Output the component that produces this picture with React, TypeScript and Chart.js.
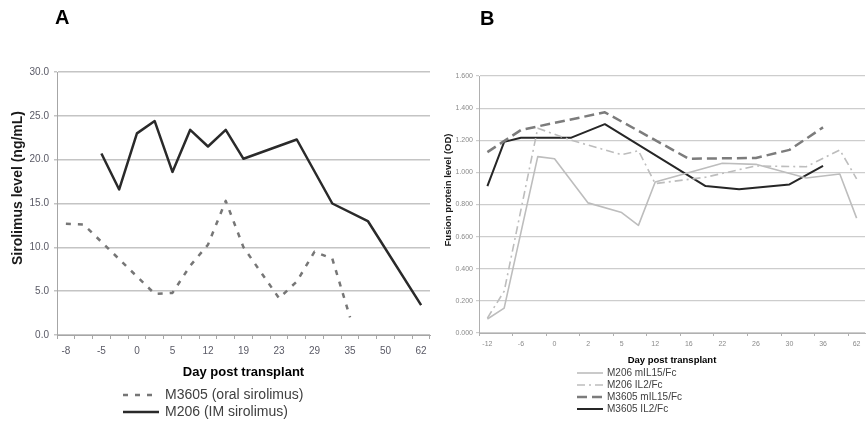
import React, { useEffect, useRef } from "react";
import { Chart, registerables } from "chart.js";

Chart.register(...registerables);

// ---------- Panel A data ----------
const daysA = ["-8", "", "-5", "", "0", "", "5", "", "12", "", "19", "", "23", "", "29", "", "35", "", "50", "", "62"];
const m3605Oral = [12.7, 12.6, null, null, null, 4.7, 4.8, 7.9, 10.3, 15.3, 10.0, null, 4.2, 6.1, 9.5, 8.7, 2.0, null, null, null, null];
const m206IM = [null, null, 20.7, 16.6, 23.0, 24.4, 18.6, 23.4, 21.5, 23.4, 20.1, null, null, 22.3, null, 15.0, null, 13.0, null, null, 3.4];
const yRangeA = [0, 30];
const yStepA = 5;

// ---------- Panel B data ----------
const daysB = ["-12", "", "-6", "", "0", "", "2", "", "5", "", "12", "", "16", "", "22", "", "26", "", "30", "", "36", "", "62"];
const m206mIL15 = [0.087, 0.155, null, 1.098, 1.085, null, 0.81, null, 0.75, 0.67, 0.94, null, null, null, 1.057, null, 1.05, null, null, 0.965, null, 0.99, 0.715];
const m206IL2 = [0.093, 0.26, null, 1.275, null, 1.2, null, null, 1.11, 1.135, 0.93, null, null, 0.97, null, null, 1.04, null, null, 1.035, null, 1.14, 0.96];
const m3605mIL15 = [1.126, null, 1.264, null, null, null, null, 1.374, null, null, null, null, 1.085, null, null, null, 1.09, null, 1.14, null, 1.28, null, null];
const m3605IL2 = [0.915, 1.19, 1.216, null, null, 1.216, null, 1.3, null, null, null, null, null, 0.915, null, 0.895, null, null, 0.925, null, 1.04, null, null];
const yRangeB = [0, 1.6];
const yStepB = 0.2;

const FONT = "'Liberation Sans', Arial, sans-serif";
Chart.defaults.font.family = FONT;

const decor = {
  id: "decor",
  afterDraw(chart: any, _args: any, o: any) {
    const ctx = chart.ctx;
    ctx.save();
    ctx.fillStyle = "#000";
    ctx.font = `bold 20px ${FONT}`;
    ctx.textAlign = "left";
    ctx.textBaseline = "alphabetic";
    ctx.fillText(o.letter, o.letterX, o.letterY);

    ctx.save();
    ctx.translate(o.yTitleX, o.yTitleY);
    ctx.rotate(-Math.PI / 2);
    ctx.font = o.yTitleFont;
    ctx.fillStyle = "#1a1a1a";
    ctx.textAlign = "center";
    ctx.textBaseline = "middle";
    ctx.fillText(o.yTitle, 0, 0);
    ctx.restore();

    o.legendOrder.forEach((dsIndex: number, row: number) => {
      const ds = chart.data.datasets[dsIndex];
      const y = o.legendY + row * o.legendGap;
      ctx.save();
      ctx.strokeStyle = ds.borderColor;
      ctx.lineWidth = ds.borderWidth;
      ctx.setLineDash(ds.borderDash || []);
      ctx.beginPath();
      ctx.moveTo(o.legendX, y);
      ctx.lineTo(o.legendX + o.sampleW, y);
      ctx.stroke();
      ctx.setLineDash([]);
      ctx.font = o.legendFont;
      ctx.fillStyle = "#404040";
      ctx.textAlign = "left";
      ctx.textBaseline = "middle";
      ctx.fillText(ds.label, o.legendX + o.sampleW + o.textGap, y);
      ctx.restore();
    });
    ctx.restore();
  },
};

function configA(): any {
  return {
    type: "line",
    data: {
      labels: daysA,
      datasets: [
        { label: "M3605 (oral sirolimus)", data: m3605Oral, borderColor: "#767676", borderWidth: 2.5, borderDash: [5, 7], pointRadius: 0, spanGaps: true, tension: 0, borderJoinStyle: "round" },
        { label: "M206 (IM sirolimus)", data: m206IM, borderColor: "#2a2a2a", borderWidth: 2.5, pointRadius: 0, spanGaps: true, tension: 0, borderJoinStyle: "round" },
      ],
    },
    plugins: [decor],
    options: {
      responsive: false,
      animation: false,
      devicePixelRatio: 1,
      layout: { padding: { left: 0, right: 10, top: 72, bottom: 43 } },
      plugins: {
        legend: { display: false },
        tooltip: { enabled: false },
        decor: {
          letter: "A", letterX: 55, letterY: 24,
          yTitle: "Sirolimus level (ng/mL)", yTitleX: 18, yTitleY: 188, yTitleFont: `bold 14px ${FONT}`,
          legendOrder: [0, 1], legendX: 123, legendY: 395, legendGap: 17, sampleW: 36, textGap: 6, legendFont: `14px ${FONT}`,
        },
      },
      scales: {
        x: {
          type: "category",
          offset: true,
          grid: { offset: true, drawOnChartArea: false, tickLength: 4, color: "#a6a6a6", lineWidth: 1 },
          border: { color: "#a6a6a6", width: 1 },
          ticks: { autoSkip: false, maxRotation: 0, padding: 6, color: "#5a5a66", font: { size: 10 } },
          title: { display: true, text: "Day post transplant", color: "#000", font: { size: 13, weight: "bold" }, padding: { top: 0, bottom: 3 } },
          afterFit: (s: any) => { s.height = 48; },
        },
        y: {
          min: yRangeA[0],
          max: yRangeA[1],
          ticks: { stepSize: yStepA, callback: (v: any) => Number(v).toFixed(1), padding: 5, color: "#5a5a66", font: { size: 10 } },
          grid: { color: "#c4c4c4", lineWidth: 1.5, tickLength: 3 },
          border: { color: "#a6a6a6", width: 1 },
          afterFit: (s: any) => { s.width = 57; },
        },
      },
    },
  };
}

function configB(): any {
  return {
    type: "line",
    data: {
      labels: daysB,
      datasets: [
        { label: "M206 mIL15/Fc", data: m206mIL15, borderColor: "#bdbdbd", borderWidth: 1.6, pointRadius: 0, spanGaps: true, tension: 0, borderJoinStyle: "round" },
        { label: "M206 IL2/Fc", data: m206IL2, borderColor: "#bdbdbd", borderWidth: 1.6, borderDash: [8, 4, 2, 4], pointRadius: 0, spanGaps: true, tension: 0, borderJoinStyle: "round" },
        { label: "M3605 mIL15/Fc", data: m3605mIL15, borderColor: "#7c7c7c", borderWidth: 2.5, borderDash: [10, 5], pointRadius: 0, spanGaps: true, tension: 0, borderJoinStyle: "round" },
        { label: "M3605 IL2/Fc", data: m3605IL2, borderColor: "#262626", borderWidth: 2, pointRadius: 0, spanGaps: true, tension: 0, borderJoinStyle: "round" },
      ],
    },
    plugins: [decor],
    options: {
      responsive: false,
      animation: false,
      devicePixelRatio: 1,
      layout: { padding: { left: 0, right: 1, top: 76, bottom: 59 } },
      plugins: {
        legend: { display: false },
        tooltip: { enabled: false },
        decor: {
          letter: "B", letterX: 40, letterY: 25,
          yTitle: "Fusion protein level (OD)", yTitleX: 8.5, yTitleY: 190, yTitleFont: `bold 9.5px ${FONT}`,
          legendOrder: [0, 1, 2, 3], legendX: 137, legendY: 373, legendGap: 12, sampleW: 26, textGap: 4, legendFont: `10px ${FONT}`,
        },
      },
      scales: {
        x: {
          type: "category",
          offset: true,
          grid: {
            offset: true,
            drawOnChartArea: false,
            tickLength: 3,
            lineWidth: 1,
            color: (c: any) => (c.index % 2 === 0 ? "#b0b0b0" : "rgba(0,0,0,0)"),
          },
          border: { color: "#b0b0b0", width: 1 },
          ticks: { autoSkip: false, maxRotation: 0, padding: 4, color: "#8a8a8a", font: { size: 7 } },
          title: { display: true, text: "Day post transplant", color: "#000", font: { size: 9.5, weight: "bold" }, padding: { top: 0, bottom: 1.3 } },
          afterFit: (s: any) => { s.height = 34; },
        },
        y: {
          min: yRangeB[0],
          max: yRangeB[1],
          ticks: { stepSize: yStepB, callback: (v: any) => Number(v).toFixed(3), padding: 3, color: "#8a8a8a", font: { size: 7 } },
          grid: { color: "#cdcdcd", lineWidth: 1.2, tickLength: 3 },
          border: { color: "#b0b0b0", width: 1 },
          afterFit: (s: any) => { s.width = 39; },
        },
      },
    },
  };
}

export default function App() {
  const refA = useRef<HTMLCanvasElement>(null);
  const refB = useRef<HTMLCanvasElement>(null);
  useEffect(() => {
    const a = new Chart(refA.current as HTMLCanvasElement, configA());
    const b = new Chart(refB.current as HTMLCanvasElement, configB());
    return () => {
      a.destroy();
      b.destroy();
    };
  }, []);
  return (
    <div style={{ position: "absolute", left: 0, top: 0, width: 866, height: 426, background: "#fff", overflow: "hidden" }}>
      <canvas ref={refA} width={440} height={426} style={{ position: "absolute", left: 0, top: 0, width: 440, height: 426 }} />
      <canvas ref={refB} width={426} height={426} style={{ position: "absolute", left: 440, top: 0, width: 426, height: 426 }} />
    </div>
  );
}
